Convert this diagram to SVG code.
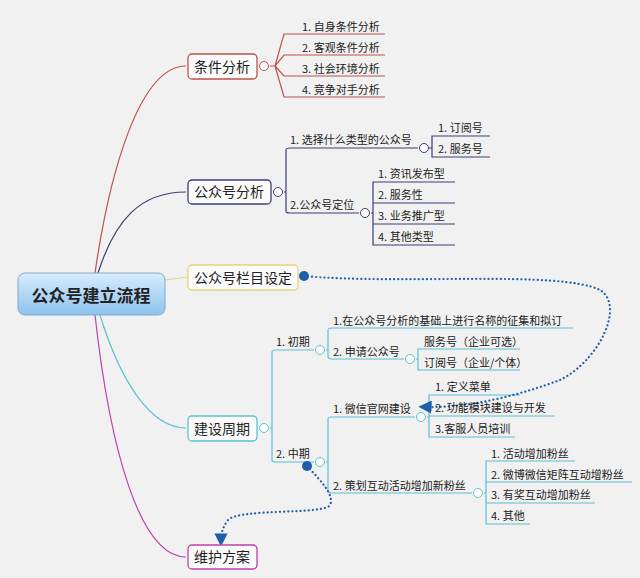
<svg xmlns="http://www.w3.org/2000/svg" width="640" height="578" viewBox="0 0 640 578">
<defs>
<linearGradient id="rg" x1="0" y1="0" x2="0" y2="1"><stop offset="0" stop-color="#d9ecfb"/><stop offset="1" stop-color="#8cc3ee"/></linearGradient>
<marker id="ah" viewBox="0 0 10 10" refX="5" refY="5" markerWidth="6" markerHeight="6" orient="auto"><path d="M0,0 L10,5 L0,10 z" fill="#1f5fa8"/></marker>
</defs>
<style>
text{font-family:"Noto Sans CJK SC","Liberation Sans",sans-serif;fill:#222}
.t{font-size:11px}
.n{font-size:14px}
.nb{fill:#fbfbfb;stroke-width:1.3}
.c{fill:#fff;stroke-width:1}
.ln{fill:none;stroke-width:1.2}
.r{stroke:#c0504d}.b{stroke:#3a3f7a}.y{stroke:#e6d27a}.cy{stroke:#5bc0d6}.m{stroke:#c040b0}
.dot{fill:none;stroke:#1f5fa8;stroke-width:2.2;stroke-dasharray:0.1 4;stroke-linecap:round}
</style>
<rect width="640" height="578" fill="#f1f1f1"/>
<g id="connectors">
<path class="ln r" d="M95,273 C110,170 140,66 186,66"/>
<path class="ln b" d="M98,273 C115,220 140,192 186,192"/>
<path class="ln y" d="M165,280 L188,277"/>
<path class="ln cy" d="M100,315 C120,380 150,428 186,428"/>
<path class="ln m" d="M95,315 C110,450 140,557 186,557"/>
<path class="ln r" d="M270,66 H275 M275,66 L284,34 H385 M275,66 L284,55 H385 M275,66 L284,76 H385 M275,66 L284,97 H385"/>
<path class="ln b" d="M284,192 H286 V150 Q286,148 290,148 H418 M286,192 V211 Q286,213 290,213 H359"/>
<path class="ln b" d="M429,148 H432 V136 H490 M432,148 V157 H490"/>
<path class="ln b" d="M371,213 H373 V182 H455 M373,213 V203 H455 M373,213 V224 H455 M373,213 V245 H455"/>
<path class="ln cy" d="M270,428 H272 V352 Q272,350 276,350 H314 M272,428 V460 Q272,462 276,462 H314"/>
<path class="ln cy" d="M326,350 H328 V330 Q328,328 332,328 H573 M328,350 V356 Q328,359 332,359 H404"/>
<path class="ln cy" d="M416,359 H418 V349 H520 M418,359 V370 H520"/>
<path class="ln cy" d="M326,462 H328 V419 Q328,417 332,417 H415 M328,462 V490 Q328,493 332,493 H472"/>
<path class="ln cy" d="M427,417 H429 V395 H520 M429,417 V416 H555 M429,417 V437 H515"/>
<path class="ln cy" d="M484,493 H486 V461 H575 M486,493 V482 H632 M486,493 V503 H595 M486,493 V524 H530"/>
<path class="dot" d="M304,276 C400,285 560,270 600,290 C625,305 600,360 560,380 C520,395 470,408 425,407" marker-end="url(#ah)"/>
<path class="dot" d="M307,466 C320,480 335,495 330,505 C325,515 240,508 228,520 C222,528 221,535 221,540" marker-end="url(#ah)"/>
</g>
<g id="root"><rect x="18" y="273" width="147" height="42" rx="7" fill="url(#rg)" stroke="#7fa9cf"/><text x="91" y="302" text-anchor="middle" font-size="17" font-weight="bold">公众号建立流程</text></g>
<g id="n1"><rect class="nb r" x="188" y="54" width="69" height="25" rx="4"/><text class="n" x="222" y="72" text-anchor="middle">条件分析</text><circle class="c r" cx="264" cy="66" r="4.5"/></g>
<g id="n1c"><text class="t" x="302" y="31">1. 自身条件分析</text><text class="t" x="302" y="52">2. 客观条件分析</text><text class="t" x="302" y="73">3. 社会环境分析</text><text class="t" x="302" y="94">4. 竞争对手分析</text></g>
<g id="n2"><rect class="nb b" x="188" y="180" width="83" height="24" rx="4"/><text class="n" x="229" y="197" text-anchor="middle">公众号分析</text><circle class="c b" cx="278" cy="192" r="4.5"/></g>
<g id="n2c"><text class="t" x="290" y="144">1. 选择什么类型的公众号</text><circle class="c b" cx="424" cy="148" r="4.5"/><text class="t" x="438" y="132">1. 订阅号</text><text class="t" x="438" y="153">2. 服务号</text>
<text class="t" x="290" y="209">2.公众号定位</text><circle class="c b" cx="365" cy="213" r="4.5"/><text class="t" x="378" y="178">1. 资讯发布型</text><text class="t" x="378" y="199">2. 服务性</text><text class="t" x="378" y="220">3. 业务推广型</text><text class="t" x="378" y="241">4. 其他类型</text></g>
<g id="n3"><rect class="nb y" x="188" y="265" width="110" height="25" rx="4"/><text class="n" x="243" y="283" text-anchor="middle">公众号栏目设定</text><circle cx="304" cy="276" r="5" fill="#1f5fa8"/></g>
<g id="n4"><rect class="nb cy" x="188" y="416" width="69" height="25" rx="4"/><text class="n" x="222" y="434" text-anchor="middle">建设周期</text><circle class="c cy" cx="264" cy="428" r="4.5"/></g>
<g id="n4c"><text class="t" x="276" y="346">1. 初期</text><circle class="c cy" cx="320" cy="350" r="4.5"/><text class="t" x="276" y="458">2. 中期</text><circle class="c cy" cx="320" cy="462" r="4.5"/><circle cx="307" cy="466" r="5" fill="#1f5fa8"/>
<text class="t" x="333" y="325">1.在公众号分析的基础上进行名称的征集和拟订</text><text class="t" x="333" y="356">2. 申请公众号</text><circle class="c cy" cx="410" cy="359" r="4.5"/>
<text class="t" x="424" y="346">服务号（企业可选）</text><text class="t" x="424" y="367">订阅号（企业/个体）</text>
<text class="t" x="333" y="413">1. 微信官网建设</text><circle class="c cy" cx="421" cy="417" r="4.5"/>
<text class="t" x="435" y="391">1. 定义菜单</text><text class="t" x="435" y="412">2. 功能模块建设与开发</text><text class="t" x="435" y="433">3.客服人员培训</text>
<text class="t" x="333" y="490">2. 策划互动活动增加新粉丝</text><circle class="c cy" cx="478" cy="493" r="4.5"/>
<text class="t" x="491" y="458">1. 活动增加粉丝</text><text class="t" x="491" y="479">2. 微博微信矩阵互动增粉丝</text><text class="t" x="491" y="499">3. 有奖互动增加粉丝</text><text class="t" x="491" y="520">4. 其他</text></g>
<g id="n5"><rect class="nb m" x="188" y="545" width="69" height="24" rx="4"/><text class="n" x="222" y="562" text-anchor="middle">维护方案</text></g>
</svg>
